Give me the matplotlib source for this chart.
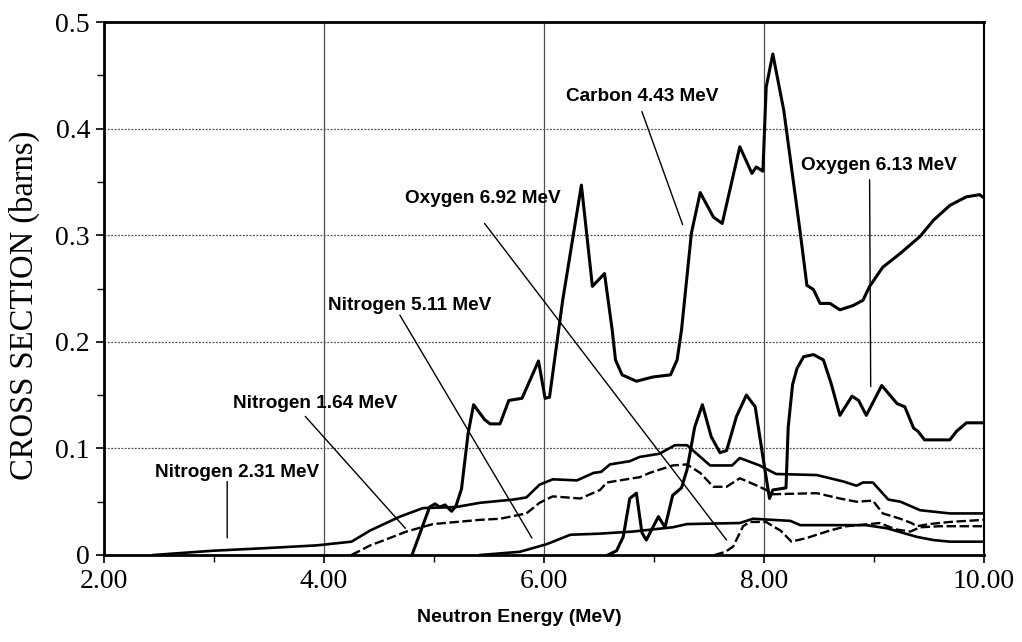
import matplotlib
matplotlib.use("Agg")
import matplotlib.pyplot as plt
from matplotlib.ticker import FixedLocator

SERIF = "Liberation Serif"
SANS = "Liberation Sans"

# Curves (energy in MeV, cross section in barns)
carbon_e = [4.80, 4.96, 5.01, 5.05, 5.10, 5.16, 5.20, 5.25, 5.31, 5.36, 5.46, 5.51,
            5.60, 5.68, 5.80, 5.95, 6.01, 6.05, 6.17, 6.34, 6.44, 6.55, 6.62, 6.65,
            6.71, 6.84, 6.99, 7.15, 7.21, 7.25, 7.34, 7.42, 7.54, 7.62, 7.78, 7.89,
            7.93, 7.99, 8.02, 8.08, 8.18, 8.33, 8.39, 8.45, 8.51, 8.60, 8.69, 8.81,
            8.90, 8.96, 9.08, 9.24, 9.42, 9.54, 9.69, 9.84, 9.96, 10.0]
carbon_xs = [0.0, 0.045, 0.048, 0.045, 0.047, 0.041, 0.046, 0.062, 0.114, 0.141, 0.127, 0.123,
             0.123, 0.145, 0.147, 0.182, 0.147, 0.148, 0.239, 0.347, 0.252, 0.264, 0.211, 0.183,
             0.169, 0.163, 0.167, 0.169, 0.183, 0.211, 0.302, 0.340, 0.317, 0.311, 0.383, 0.358,
             0.364, 0.360, 0.439, 0.470, 0.417, 0.302, 0.253, 0.249, 0.236, 0.236, 0.230, 0.234,
             0.239, 0.252, 0.270, 0.283, 0.299, 0.314, 0.328, 0.336, 0.338, 0.335]

o613_e = [6.58, 6.66, 6.72, 6.78, 6.84, 6.89, 6.93, 7.04, 7.10, 7.17, 7.25, 7.30,
          7.37, 7.44, 7.52, 7.60, 7.66, 7.75, 7.84, 7.92, 7.99, 8.05, 8.08, 8.20,
          8.22, 8.26, 8.30, 8.36, 8.45, 8.54, 8.61, 8.69, 8.80, 8.86, 8.93, 9.07,
          9.21, 9.28, 9.36, 9.40, 9.46, 9.69, 9.75, 9.84, 10.0]
o613_xs = [0.0, 0.004, 0.017, 0.053, 0.058, 0.021, 0.014, 0.036, 0.026, 0.056, 0.063, 0.080,
           0.120, 0.141, 0.111, 0.096, 0.098, 0.130, 0.150, 0.139, 0.092, 0.053, 0.061, 0.063,
           0.120, 0.160, 0.175, 0.186, 0.188, 0.183, 0.161, 0.131, 0.149, 0.145, 0.131, 0.159,
           0.142, 0.139, 0.119, 0.116, 0.108, 0.108, 0.116, 0.124, 0.124]

n231_e = [2.45, 2.99, 3.48, 3.93, 4.25, 4.42, 4.69, 4.90, 5.20, 5.42, 5.72, 5.84,
          5.96, 6.08, 6.30, 6.45, 6.52, 6.60, 6.78, 6.87, 7.05, 7.19, 7.30, 7.51,
          7.71, 7.78, 7.96, 8.11, 8.48, 8.72, 8.84, 8.90, 8.99, 9.13, 9.24, 9.42,
          9.69, 10.0]
n231_xs = [0.0, 0.004, 0.0065, 0.009, 0.0125, 0.023, 0.036, 0.044, 0.045, 0.049, 0.052, 0.054,
           0.066, 0.071, 0.070, 0.077, 0.078, 0.085, 0.088, 0.092, 0.095, 0.103, 0.103, 0.084,
           0.084, 0.091, 0.084, 0.076, 0.075, 0.069, 0.065, 0.068, 0.068, 0.052, 0.050, 0.042,
           0.039, 0.039]

n164_e = [4.25, 4.42, 4.60, 4.75, 4.99, 5.42, 5.60, 5.84, 5.96, 6.08, 6.33, 6.51,
          6.57, 6.87, 6.96, 7.17, 7.30, 7.42, 7.54, 7.66, 7.78, 7.96, 8.02, 8.08,
          8.48, 8.69, 8.84, 8.99, 9.08, 9.24, 9.34, 9.39, 9.50, 9.69, 10.0]
n164_xs = [0.0, 0.009, 0.016, 0.022, 0.029, 0.033, 0.034, 0.039, 0.049, 0.055, 0.053, 0.061,
           0.068, 0.073, 0.077, 0.084, 0.085, 0.077, 0.064, 0.064, 0.072, 0.064, 0.061, 0.057,
           0.058, 0.053, 0.050, 0.051, 0.039, 0.034, 0.030, 0.027, 0.029, 0.031, 0.033]

o692_e = [7.55, 7.65, 7.72, 7.81, 7.87, 8.02, 8.08, 8.15, 8.25, 8.39, 8.60, 8.75,
          8.96, 9.05, 9.20, 9.33, 9.42, 9.60, 10.0]
o692_xs = [0.0, 0.003, 0.008, 0.027, 0.031, 0.031, 0.027, 0.023, 0.0125, 0.016, 0.023, 0.027,
           0.029, 0.030, 0.024, 0.022, 0.026, 0.027, 0.027]

n511_e = [5.42, 5.78, 5.90, 6.02, 6.24, 6.50, 6.81, 7.17, 7.30, 7.78, 7.90, 8.24,
          8.33, 8.84, 8.93, 9.12, 9.39, 9.54, 9.69, 10.0]
n511_xs = [0.0, 0.003, 0.0065, 0.010, 0.019, 0.020, 0.022, 0.026, 0.029, 0.030, 0.034, 0.032,
           0.028, 0.028, 0.028, 0.025, 0.017, 0.014, 0.0125, 0.0125]

# label text, text anchor (left, centre), pointer start, pointer end
labels = [
    ("Carbon 4.43 MeV", (6.20, 0.430), (6.89, 0.416), (7.26, 0.310)),
    ("Oxygen 6.13 MeV", (8.34, 0.365), (8.96, 0.352), (8.97, 0.158)),
    ("Oxygen 6.92 MeV", (4.74, 0.334), (5.46, 0.311), (7.66, 0.014)),
    ("Nitrogen 5.11 MeV", (4.04, 0.234), (4.69, 0.225), (5.89, 0.016)),
    ("Nitrogen 1.64 MeV", (3.17, 0.142), (3.83, 0.130), (4.74, 0.025)),
    ("Nitrogen 2.31 MeV", (2.46, 0.077), (3.12, 0.069), (3.12, 0.016)),
]

x_major = [2, 4, 6, 8, 10]
x_major_labels = ["2.00", "4.00", "6.00", "8.00", "10.00"]
x_minor = [3, 5, 7, 9]
y_major = [0, 0.1, 0.2, 0.3, 0.4, 0.5]
y_major_labels = ["0", "0.1", "0.2", "0.3", "0.4", "0.5"]
y_minor = [0.05, 0.15, 0.25, 0.35, 0.45]
grid_x = [4, 6, 8]
grid_y = [0.1, 0.2, 0.3, 0.4]

fig = plt.figure(figsize=(10.22, 6.42), dpi=100)
ax = fig.add_axes([104 / 1022, 1 - 555 / 642, 880 / 1022, 533 / 642])
ax.set_xlim(2, 10)
ax.set_ylim(0, 0.5)

for g in grid_x:
    ax.axvline(g, color="0.3", lw=0.9, zorder=1)
for g in grid_y:
    ax.axhline(g, color="0.3", lw=0.9, ls=(0, (1.5, 1.2)), zorder=1)

thick = dict(color="black", lw=2.2, zorder=3, solid_joinstyle="round")
ax.plot(carbon_e, carbon_xs, **thick)
ax.plot(o613_e, o613_xs, **thick)
ax.plot(n231_e, n231_xs, color="black", lw=1.9, zorder=3)
ax.plot(n511_e, n511_xs, color="black", lw=1.9, zorder=3)
ax.plot(n164_e, n164_xs, color="black", lw=1.7, ls=(0, (4, 1.5)), zorder=3)
ax.plot(o692_e, o692_xs, color="black", lw=1.7, ls=(0, (4, 1.5)), zorder=3)

for text, pos, p0, p1 in labels:
    ax.text(pos[0], pos[1], text, ha="left", va="center", fontsize=13.7,
            fontweight="bold", family=SANS, zorder=5)
    ax.annotate("", xy=p1, xytext=p0,
                arrowprops=dict(arrowstyle="-", lw=1.0, color="black",
                                shrinkA=0, shrinkB=0), zorder=4)

ax.set_xticks(x_major)
ax.set_xticklabels(x_major_labels, family=SERIF, fontsize=20)
ax.xaxis.set_minor_locator(FixedLocator(x_minor))
ax.set_yticks(y_major)
ax.set_yticklabels(y_major_labels, family=SERIF, fontsize=20)
ax.yaxis.set_minor_locator(FixedLocator(y_minor))
ax.tick_params(which="major", direction="out", length=6, width=1.2, pad=4)
ax.tick_params(which="minor", direction="out", length=5, width=1.0)

for side in ["left", "bottom", "top"]:
    ax.spines[side].set_linewidth(2.0)
ax.spines["right"].set_linewidth(1.5)

fig.text(519 / 1022, 1 - 617 / 642, "Neutron Energy (MeV)", ha="center", va="center",
         fontsize=14, fontweight="bold", family=SANS)
fig.text(24 / 1022, 1 - 305 / 642, "CROSS SECTION (barns)", ha="center", va="center",
         rotation=90, fontsize=23.5, family=SERIF)

fig.savefig("out.png", dpi=100, facecolor="white")
